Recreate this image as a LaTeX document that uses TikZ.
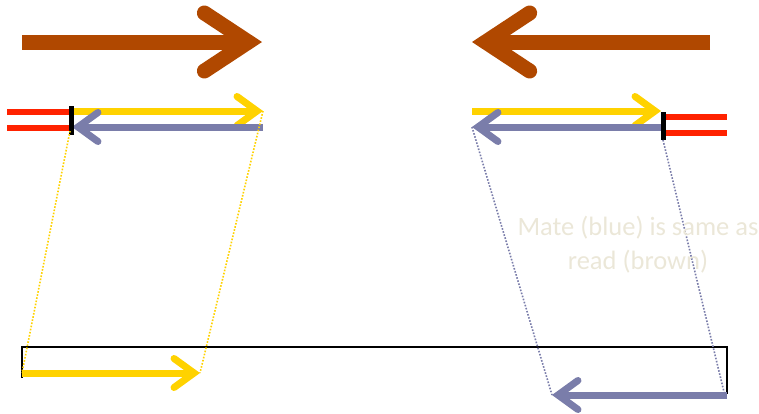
\documentclass[tikz,border=0pt]{standalone}
\usepackage{fontspec}
\setmainfont{Carlito}
\usepackage{tikz}
\usetikzlibrary{arrows.meta}

\definecolor{readbrown}{RGB}{176,72,0}
\definecolor{fwdyellow}{RGB}{255,210,0}
\definecolor{matesblue}{RGB}{122,125,170}
\definecolor{adaptred}{RGB}{255,34,0}
\definecolor{notebeige}{RGB}{235,231,216}

\begin{document}
\begin{tikzpicture}[
  x=1pt, y=-1pt,
  bigarr/.style={readbrown, line width=15pt,
    -{Straight Barb[length=44pt,width=58pt,line cap=round,line join=miter]}},
  yarr/.style={fwdyellow, line width=7pt,
    -{Straight Barb[length=20pt,width=29pt,line cap=round,line join=miter]}},
  barr/.style={matesblue, line width=7pt,
    -{Straight Barb[length=20pt,width=29pt,line cap=round,line join=miter]}},
  adapter/.style={adaptred, line width=6pt},
  bar/.style={black, line width=5pt},
  ydots/.style={fwdyellow, line width=1.6pt, dash pattern=on 1.6pt off 1.6pt},
  bdots/.style={matesblue, line width=1.6pt, dash pattern=on 1.6pt off 1.6pt}
]
\useasboundingbox (0,0) rectangle (759,413);

% big arrows on top
\coordinate (bigL0) at (22,42);
\coordinate (bigL1) at (262,42);
\coordinate (bigR0) at (710,42);
\coordinate (bigR1) at (472,42);
\draw[bigarr] (bigL0) -- (bigL1);
\draw[bigarr] (bigR0) -- (bigR1);

% left pair
\coordinate (ly0) at (71,111);
\coordinate (ly1) at (263,111);
\coordinate (lb0) at (263,127);
\coordinate (lb1) at (72,127);
\draw[adapter] (7,112) -- (70,112);
\draw[adapter] (7,128) -- (70,128);
\draw[yarr] (ly0) -- (ly1);
\draw[barr] (lb0) -- (lb1);
\draw[bar] (71,106) -- (71,135);

% right pair
\coordinate (ry0) at (472,111);
\coordinate (ry1) at (661,111);
\coordinate (rb0) at (663,127);
\coordinate (rb1) at (472,127);
\draw[adapter] (665,117) -- (727,117);
\draw[adapter] (665,133) -- (727,133);
\draw[yarr] (ry0) -- (ry1);
\draw[barr] (rb0) -- (rb1);
\draw[bar] (663,112) -- (663,140);

% reference
\coordinate (refL) at (22,378);
\coordinate (refR) at (727,394);
\draw[black, line width=1.5pt] (refL) |- (727,347) -- (refR);

% mapped reads
\coordinate (my0) at (22,373);
\coordinate (my1) at (200,373);
\coordinate (mb0) at (727,395);
\coordinate (mb1) at (552,395);
\draw[yarr] (my0) -- (my1);
\draw[barr] (mb0) -- (mb1);

% projections
\draw[ydots] (70,131) -- (my0);
\draw[ydots] (ly1) -- (my1);
\draw[bdots] (rb1) -- (mb1);
\draw[bdots] (663,140) -- (724,392);

\node[notebeige, align=center, font=\fontsize{26.5}{34}\selectfont]
  (note) at (638,245) {Mate (blue) is same as\\read (brown)};
\end{tikzpicture}
\end{document}
